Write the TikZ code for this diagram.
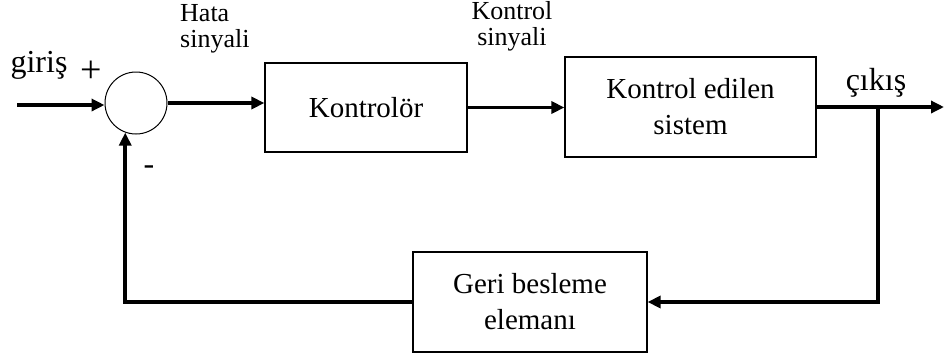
\documentclass[tikz,border=0pt]{standalone}
\usepackage{fontspec}
\setmainfont{Liberation Serif}
\usetikzlibrary{arrows.meta}
\begin{document}
\begin{tikzpicture}[x=1pt,y=-1pt,
  blockbox/.style={draw,line width=1.2pt,inner sep=0pt,align=center,font=\fontsize{29}{36}\selectfont},
  sig/.style={line width=3.5pt,-{Triangle[length=13pt,width=12pt]}},
  lbl/.style={inner sep=0pt,font=\fontsize{26}{26}\selectfont},
  biglbl/.style={inner sep=0pt,font=\fontsize{32}{34}\selectfont}]
\useasboundingbox (0,0) rectangle (945,357);
\node[circle,draw,line width=1pt,minimum size=62pt,inner sep=0pt] (sum) at (136,103) {};
\node[blockbox,minimum width=202pt,minimum height=89pt] (ctrl) at (366,107.5) {Kontrolör};
\node[blockbox,minimum width=251pt,minimum height=100pt] (plant) at (690.5,107) {Kontrol edilen\\sistem};
\node[blockbox,minimum width=234pt,minimum height=100pt] (fb) at (530,302) {Geri besleme\\elemanı};
\coordinate (in) at (17,105);
\coordinate (out) at (944,107);
\coordinate (br) at (878,107);
\node[biglbl,anchor=base] (giris) at (39,72) {giriş};
\node[inner sep=0pt,font=\fontsize{38}{40}\selectfont] (plus) at (91,72) {+};
\node[biglbl] (minus) at (149,170) {-};
\node[biglbl,anchor=base] (cikis) at (876,90) {çıkış};
\node[lbl,align=left,anchor=base west] (hata) at (180,47) {Hata\\sinyali};
\node[lbl,align=center,anchor=base] (ksig) at (512,45) {Kontrol\\sinyali};
\draw[sig] (in) -- (sum.west |- in);
\draw[sig] (sum.east) -- (sum.east -| ctrl.west);
\draw[sig] (ctrl.east) -- (ctrl.east -| plant.west);
\draw[sig] (plant.east |- out) -- (out);
\draw[sig] (br) |- (fb.east);
\draw[sig] (fb.west) -| (sum.250);
\end{tikzpicture}
\end{document}
